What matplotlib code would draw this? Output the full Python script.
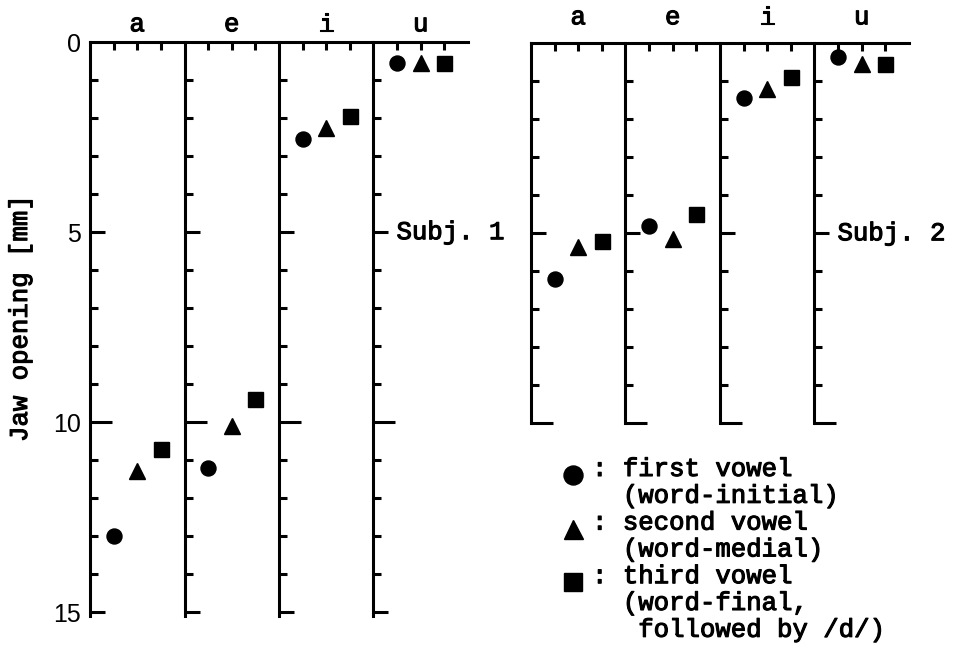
import numpy as np
import matplotlib
matplotlib.use("Agg")
import matplotlib.pyplot as plt
import matplotlib.patheffects as pe

W, H = 962, 648
DPI = 100

vowels = ["a", "e", "i", "u"]

# jaw opening [mm] per vowel
subj1_first = [13.0, 11.2, 2.55, 0.55]
subj1_second = [11.3, 10.1, 2.25, 0.55]
subj1_third = [10.7, 9.4, 1.95, 0.55]

subj2_first = [6.2, 4.8, 1.45, 0.35]
subj2_second = [5.35, 5.15, 1.2, 0.55]
subj2_third = [5.2, 4.5, 0.9, 0.55]

series_markers = ["o", "^", "s"]
yticks_subj1 = [0, 5, 10, 15]

legend_entries = [
    ["first vowel", "(word-initial)"],
    ["second vowel", "(word-medial)"],
    ["third vowel", "(word-final,", " followed by /d/)"],
]

MONO = "Liberation Mono"
SANS = "Liberation Sans"
FS = 18.5
LW = 2.2
# typewriter text in the scan is a bit heavier than Liberation Mono regular
HEAVY = [pe.withStroke(linewidth=0.8, foreground="k")]


def px2pt(v):
    return v * 72.0 / DPI


def px_box(left, top, right, bottom):
    return [left / W, 1 - bottom / H, (right - left) / W, (bottom - top) / H]


def tick_len(mm):
    # longer ticks at 10, medium at 5/15, short elsewhere
    if mm % 10 == 0:
        return 22
    if mm % 5 == 0:
        return 15
    return 8


def draw_subject(fig, box, ymax, line_end, series, name, label_gap, show_yticks):
    ax = fig.add_axes(box)
    n = len(vowels)
    ax.set_xlim(0, n)
    ax.set_ylim(ymax, 0)
    for sp in ax.spines.values():
        sp.set_visible(False)
    ax.set_xticks([])

    if show_yticks:
        ax.set_yticks(yticks_subj1)
        ax.set_yticklabels([str(t) for t in yticks_subj1], fontfamily=SANS, fontsize=18)
        ax.tick_params(axis="y", length=0, pad=px2pt(9))
    else:
        ax.set_yticks([])

    # panel dividers and the top rule
    vl = ax.vlines(np.arange(n), 0, line_end, colors="k", lw=LW, clip_on=False)
    vl.set_capstyle("projecting")
    hl = ax.hlines(0, 0, n, colors="k", lw=LW, clip_on=False)
    hl.set_capstyle("projecting")

    # inward ticks on each divider
    mm = np.arange(1, int(line_end) + 1)
    for x in range(n):
        for m in mm:
            ax.plot([x], [m], ls="none", marker=1, color="k",
                    ms=px2pt(tick_len(m)), mew=LW, clip_on=False)

    # small ticks along the top rule under each point column
    offs = np.array([0.25, 0.5, 0.75])
    top_x = (np.arange(n)[:, None] + offs[None, :]).ravel()
    ax.plot(top_x, np.zeros_like(top_x), ls="none", marker=3, color="k",
            ms=px2pt(8), mew=LW, clip_on=False)

    for vals, mk, off in zip(series, series_markers, offs):
        ax.plot(np.arange(n) + off, vals, ls="none", marker=mk, color="k",
                ms=px2pt(15) if mk != "^" else px2pt(16), clip_on=False)

    for i, v in enumerate(vowels):
        ax.annotate(v, (i + 0.5, 0), xytext=(0, px2pt(label_gap)),
                    textcoords="offset points", ha="center", va="center",
                    fontfamily=MONO, fontsize=FS, path_effects=HEAVY)

    ax.annotate(name, (n - 1, 5), xytext=(px2pt(23), px2pt(-7)),
                textcoords="offset points", ha="left", va="baseline",
                fontfamily=MONO, fontsize=FS, path_effects=HEAVY)
    return ax


fig = plt.figure(figsize=(W / DPI, H / DPI), dpi=DPI)

draw_subject(fig, px_box(90, 42.3, 468, 615.8), 15.1, 15.1,
             [subj1_first, subj1_second, subj1_third], "Subj. 1", 18, True)
draw_subject(fig, px_box(531, 43.3, 909, 423.3), 10.0, 10.0,
             [subj2_first, subj2_second, subj2_third], "Subj. 2", 26, False)

fig.text(20 / W, 1 - 318 / H, "Jaw opening [mm]", rotation=90,
         ha="center", va="center", fontfamily=MONO, fontsize=FS, path_effects=HEAVY)

# legend drawn in pixel space
lax = fig.add_axes([0, 0, 1, 1])
lax.set_xlim(0, W)
lax.set_ylim(H, 0)
lax.axis("off")
line_y = 469
step = 26.8
for entry, mk in zip(legend_entries, series_markers):
    lax.plot([573], [line_y + 6], ls="none", marker=mk, color="k",
             ms=px2pt(19) if mk != "s" else px2pt(18))
    for k, txt in enumerate(entry):
        prefix = ": " if k == 0 else "  "
        lax.text(592, line_y, prefix + txt, ha="left", va="center",
                 fontfamily=MONO, fontsize=FS, path_effects=HEAVY)
        line_y += step

fig.savefig("out.png", dpi=DPI)
